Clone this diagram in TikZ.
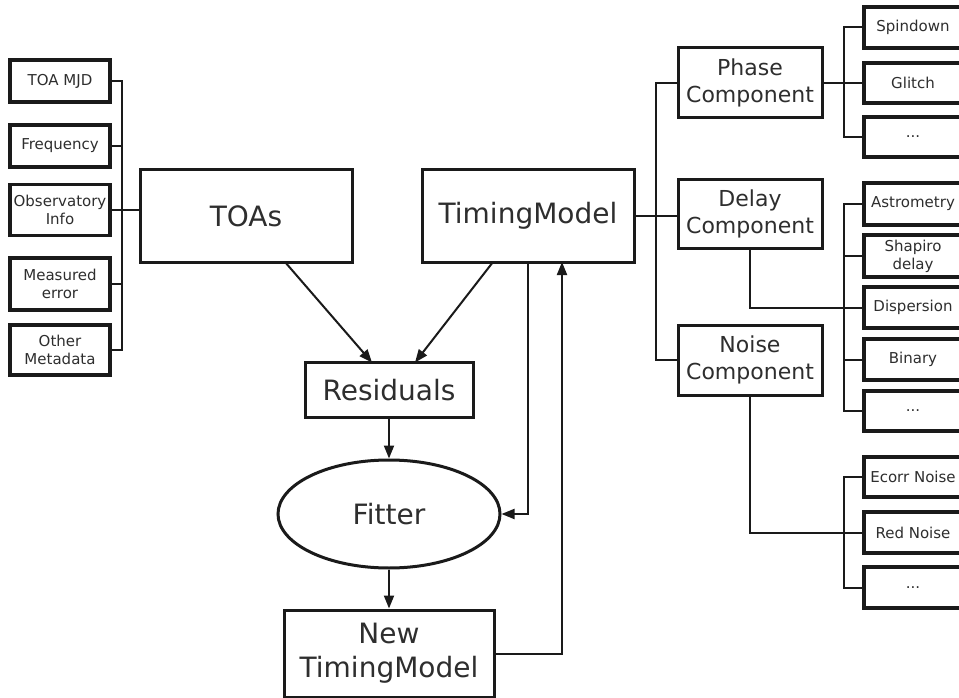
\documentclass[tikz,border=0pt]{standalone}
\usepackage{fontspec}
\setmainfont{DejaVu Sans}
\usetikzlibrary{arrows.meta,shapes.geometric}
\definecolor{ink}{HTML}{1A1A1A}
\definecolor{txt}{HTML}{2E2E2E}
\tikzset{
  box/.style={draw=ink, line width=3pt, text=txt, inner sep=0pt, align=center},
  smallbox/.style={box, line width=3.2pt, font=\fontsize{15}{18}\selectfont},
  midbox/.style={box, font=\fontsize{22}{26.5}\selectfont},
  bigbox/.style={box, font=\fontsize{28}{34}\selectfont},
  wire/.style={draw=ink, line width=2pt},
  arr/.style={wire, -{Triangle[length=13pt,width=10pt]}},
}
\begin{document}
\begin{tikzpicture}[x=1pt,y=-1pt]
\useasboundingbox (0,0) rectangle (959,698);
\fill[white] (0,0) rectangle (959,698);

% left small boxes
\node[smallbox, minimum width=100pt, minimum height=42pt] (mjd) at (60,81) {TOA MJD};
\node[smallbox, minimum width=100pt, minimum height=42pt] (freq) at (60,146) {Frequency};
\node[smallbox, minimum width=100pt, minimum height=51pt] (obs) at (60,210) {Observatory\\Info};
\node[smallbox, minimum width=100pt, minimum height=52pt] (err) at (60,284) {Measured\\error};
\node[smallbox, minimum width=100pt, minimum height=50pt] (meta) at (60,350) {Other\\Metadata};

% main boxes
\node[bigbox, minimum width=212pt, minimum height=92pt] (toas) at (246,216) {TOAs};
\node[bigbox, minimum width=212pt, minimum height=92pt] (tm) at (528,216) {TimingModel};
\node[bigbox, minimum width=168pt, minimum height=55pt] (res) at (389,390) {Residuals};
\node[bigbox, ellipse, minimum width=222pt, minimum height=108pt] (fit) at (389,514) {Fitter};
\node[bigbox, minimum width=210pt, minimum height=87pt] (ntm) at (389,653.5) {New\\TimingModel};

% components
\node[midbox, minimum width=144pt, minimum height=70pt] (phase) at (750,83) {Phase\\Component};
\node[midbox, minimum width=144pt, minimum height=68pt] (delay) at (750,214) {Delay\\Component};
\node[midbox, minimum width=144pt, minimum height=70pt] (noise) at (750,360) {Noise\\Component};

% right small boxes (cut by right edge)
\node[smallbox, minimum width=104pt, minimum height=41pt] (spin) at (916,27.5) {\hspace*{-6pt}Spindown};
\node[smallbox, minimum width=104pt, minimum height=40pt] (glitch) at (916,83) {\hspace*{-6pt}Glitch};
\node[smallbox, minimum width=104pt, minimum height=40pt] (pdots) at (916,137) {\hspace*{-6pt}...};
\node[smallbox, minimum width=104pt, minimum height=42pt] (astro) at (916,204) {\hspace*{-6pt}Astrometry};
\node[smallbox, minimum width=104pt, minimum height=42pt] (shap) at (916,256) {\hspace*{-6pt}Shapiro\\\hspace*{-6pt}delay};
\node[smallbox, minimum width=104pt, minimum height=41pt] (disp) at (916,307.5) {\hspace*{-6pt}Dispersion};
\node[smallbox, minimum width=104pt, minimum height=41pt] (bin) at (916,359.5) {\hspace*{-6pt}Binary};
\node[smallbox, minimum width=104pt, minimum height=40pt] (ddots) at (916,411) {\hspace*{-6pt}...};
\node[smallbox, minimum width=104pt, minimum height=40pt] (ecorr) at (916,477) {\hspace*{-6pt}Ecorr Noise};
\node[smallbox, minimum width=104pt, minimum height=41pt] (red) at (916,532.5) {\hspace*{-6pt}Red Noise};
\node[smallbox, minimum width=104pt, minimum height=41pt] (ndots) at (916,587.5) {\hspace*{-6pt}...};

% left bus
\coordinate (lb) at (122,0);
\draw[wire] (mjd.east) -- (mjd.east -| lb) -- (meta.east -| lb) -- (meta.east);
\draw[wire] (freq.east) -- (freq.east -| lb);
\draw[wire] (err.east) -- (err.east -| lb);
\draw[wire] (obs.east) -- (obs.east -| toas.west);

% right trunk
\coordinate (rb) at (656,0);
\draw[wire] (tm.east) -- (tm.east -| delay.west);
\draw[wire] (phase.west) -- (phase.west -| rb) -- (noise.west -| rb) -- (noise.west);

% phase bus
\coordinate (sb) at (844,0);
\draw[wire] (spin.west) -- (spin.west -| sb) -- (pdots.west -| sb) -- (pdots.west);
\draw[wire] (phase.east) -- (glitch.west);

% delay bus
\draw[wire] (astro.west) -- (astro.west -| sb) -- (ddots.west -| sb) -- (ddots.west);
\draw[wire] (shap.west) -- (shap.west -| sb);
\draw[wire] (bin.west) -- (bin.west -| sb);
\draw[wire] (delay.south) -- (delay.south |- disp.west) -- (disp.west);

% noise bus
\draw[wire] (ecorr.west) -- (ecorr.west -| sb) -- (ndots.west -| sb) -- (ndots.west);
\draw[wire] (noise.south) -- (noise.south |- red.west) -- (red.west);

% central flow
\draw[arr] (285,262) -- (372,362.5);
\draw[arr] (493,262) -- (415,362.5);
\draw[arr] (res.south) -- (fit.north);
\draw[arr] (fit.south) -- (ntm.north);
\draw[arr] (528,262) -- (528,514) -- (fit.east);
\draw[arr] (ntm.east) -- (562,653.5) -- (562,262);
\end{tikzpicture}
\end{document}
